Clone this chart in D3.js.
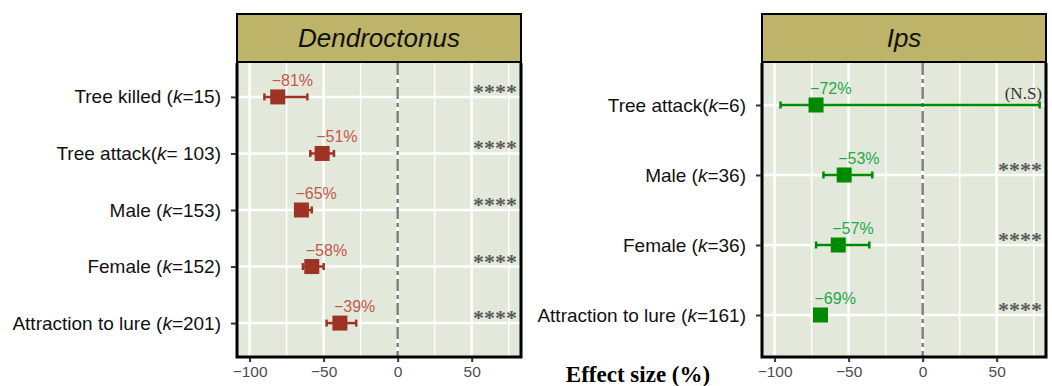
<!DOCTYPE html>
<html>
<head>
<meta charset="utf-8">
<script src="https://cdn.jsdelivr.net/npm/d3@7"></script>
<style>
  body { margin: 0; background: #fff; }
</style>
</head>
<body>
<div id="chart"></div>
<script>
// Dendroctonus panel data
var dendroNames = ["Tree killed (", "Tree attack(", "Male (", "Female (", "Attraction to lure ("];
var dendroK = ["=15)", "= 103)", "=153)", "=152)", "=201)"];
var dendroEst = [-81, -51, -65, -58, -39];
var dendroLo = [-90, -59, -69, -64, -48];
var dendroHi = [-61, -43, -58, -50, -28];
var dendroSig = ["****", "****", "****", "****", "****"];

// Ips panel data
var ipsNames = ["Tree attack(", "Male (", "Female (", "Attraction to lure ("];
var ipsK = ["=6)", "=36)", "=36)", "=161)"];
var ipsEst = [-72, -53, -57, -69];
var ipsLo = [-96, -67, -72, -72];
var ipsHi = [79, -34, -36, -65];
var ipsSig = ["(N.S)", "****", "****", "****"];

var xTicks = [-100, -50, 0, 50];
var xMinor = [-75, -25, 25, 75];

var SANS = "'Liberation Sans', Arial, sans-serif";
var SERIF = "'Liberation Serif', 'Times New Roman', serif";

var svg = d3.select("#chart").append("svg")
  .attr("width", 1052)
  .attr("height", 386)
  .style("font-family", SANS);

function drawPanel(opt) {
  var rows = opt.names.map(function (n, i) {
    return { name: n, k: opt.k[i], est: opt.est[i], lo: opt.lo[i], hi: opt.hi[i], sig: opt.sig[i], id: i };
  });

  var top = 63, bottom = 357;
  var x = d3.scaleLinear().domain([-108.5, 83.3]).range([opt.x0, opt.x1]);
  // ggplot style discrete expansion of 0.6 on each side
  var y = d3.scaleLinear().domain([-0.6, rows.length - 1 + 0.6]).range([top, bottom]);

  var g = svg.append("g");

  // panel background
  g.append("rect")
    .attr("x", opt.x0).attr("y", top)
    .attr("width", opt.x1 - opt.x0).attr("height", bottom - top)
    .attr("fill", "#e3e9da");

  // grid lines
  g.selectAll(".minor").data(xMinor).enter().append("line")
    .attr("x1", x).attr("x2", x).attr("y1", top).attr("y2", bottom)
    .attr("stroke", "#fff").attr("stroke-width", 1.5);
  g.selectAll(".major").data(xTicks).enter().append("line")
    .attr("x1", x).attr("x2", x).attr("y1", top).attr("y2", bottom)
    .attr("stroke", "#fff").attr("stroke-width", 2.5);
  g.selectAll(".hgrid").data(rows).enter().append("line")
    .attr("x1", opt.x0).attr("x2", opt.x1)
    .attr("y1", function (d) { return y(d.id); })
    .attr("y2", function (d) { return y(d.id); })
    .attr("stroke", "#fff").attr("stroke-width", 2.5);

  // zero reference line
  g.append("line")
    .attr("x1", x(0)).attr("x2", x(0)).attr("y1", top).attr("y2", bottom)
    .attr("stroke", "#808080").attr("stroke-width", 2.5)
    .attr("stroke-dasharray", "12,4,4,4");

  // error bars
  g.selectAll(".ci").data(rows).enter().append("line")
    .attr("x1", function (d) { return x(d.lo); })
    .attr("x2", function (d) { return x(d.hi); })
    .attr("y1", function (d) { return y(d.id); })
    .attr("y2", function (d) { return y(d.id); })
    .attr("stroke", opt.color).attr("stroke-width", 2.5);
  ["lo", "hi"].forEach(function (key) {
    g.selectAll(".cap-" + key).data(rows).enter().append("line")
      .attr("x1", function (d) { return x(d[key]); })
      .attr("x2", function (d) { return x(d[key]); })
      .attr("y1", function (d) { return y(d.id) - 3.5; })
      .attr("y2", function (d) { return y(d.id) + 3.5; })
      .attr("stroke", opt.color).attr("stroke-width", 2.5);
  });

  // point estimates
  g.selectAll(".pt").data(rows).enter().append("rect")
    .attr("x", function (d) { return x(d.est) - 7.5; })
    .attr("y", function (d) { return y(d.id) - 7.5; })
    .attr("width", 15).attr("height", 15)
    .attr("fill", opt.color);

  // percent labels
  g.selectAll(".pct").data(rows).enter().append("text")
    .attr("x", function (d) { return x(d.est) - 6; })
    .attr("y", function (d) { return y(d.id) - 11; })
    .style("font-size", "16px")
    .attr("fill", opt.labelColor)
    .text(function (d) { return "\u2212" + Math.abs(d.est) + "%"; });

  // significance labels
  g.selectAll(".sig").data(rows).enter().append("text")
    .attr("x", opt.x1 - 4)
    .attr("y", function (d) { return d.sig === "****" ? y(d.id) + 2 : y(d.id) - 6; })
    .attr("text-anchor", "end")
    .style("font-family", SERIF)
    .style("font-size", function (d) { return d.sig === "****" ? "22px" : "17px"; })
    .style("font-weight", function (d) { return d.sig === "****" ? "bold" : "normal"; })
    .attr("fill", function (d) { return d.sig === "****" ? "#5a5a5a" : "#333"; })
    .text(function (d) { return d.sig; });

  // panel border
  g.append("path")
    .attr("d", "M" + opt.x0 + "," + top + "V" + bottom + "H" + opt.x1 + "V" + top)
    .attr("fill", "none").attr("stroke", "#000").attr("stroke-width", 3);

  // strip header
  g.append("rect")
    .attr("x", opt.x0).attr("y", 14)
    .attr("width", opt.x1 - opt.x0).attr("height", 48)
    .attr("fill", "#bdb46a").attr("stroke", "#000").attr("stroke-width", 2);
  g.append("text")
    .attr("x", (opt.x0 + opt.x1) / 2).attr("y", 47)
    .attr("text-anchor", "middle")
    .style("font-size", "26px").style("font-style", "italic")
    .attr("fill", "#111")
    .text(opt.title);

  // x axis
  var xAxis = g.append("g")
    .attr("transform", "translate(0," + (bottom + 1) + ")")
    .call(d3.axisBottom(x).tickValues(xTicks).tickSize(4).tickPadding(4)
      .tickFormat(function (d) { return d < 0 ? "\u2212" + Math.abs(d) : d; }));
  xAxis.select(".domain").remove();
  xAxis.selectAll("line").attr("stroke", "#333").attr("stroke-width", 2);
  xAxis.selectAll("text").attr("fill", "#4d4d4d")
    .style("font-size", "15.5px").style("font-family", SANS);

  // y axis
  var yAxis = g.append("g")
    .attr("transform", "translate(" + (opt.x0 - 1) + ",0)")
    .call(d3.axisLeft(y).tickValues(rows.map(function (d) { return d.id; }))
      .tickSize(5).tickPadding(5).tickFormat(""));
  yAxis.select(".domain").remove();
  yAxis.selectAll("line").attr("stroke", "#333").attr("stroke-width", 2);

  var lab = g.selectAll(".ylab").data(rows).enter().append("text")
    .attr("x", opt.x0 - 16)
    .attr("y", function (d) { return y(d.id) + 6.5; })
    .attr("text-anchor", "end")
    .style("font-size", "19px")
    .attr("fill", "#111");
  lab.append("tspan").text(function (d) { return d.name; });
  lab.append("tspan").style("font-style", "italic").text("k");
  lab.append("tspan").text(function (d) { return d.k; });
}

drawPanel({
  title: "Dendroctonus", x0: 237, x1: 521,
  names: dendroNames, k: dendroK, est: dendroEst, lo: dendroLo, hi: dendroHi, sig: dendroSig,
  color: "#9e3324", labelColor: "#c4584a"
});

drawPanel({
  title: "Ips", x0: 762, x1: 1046,
  names: ipsNames, k: ipsK, est: ipsEst, lo: ipsLo, hi: ipsHi, sig: ipsSig,
  color: "#008a00", labelColor: "#1fa84a"
});

// shared x axis title
svg.append("text")
  .attr("x", 638).attr("y", 382)
  .attr("text-anchor", "middle")
  .style("font-family", SERIF)
  .style("font-weight", "bold")
  .style("font-size", "23px")
  .attr("fill", "#000")
  .text("Effect size (%)");
</script>
</body>
</html>
